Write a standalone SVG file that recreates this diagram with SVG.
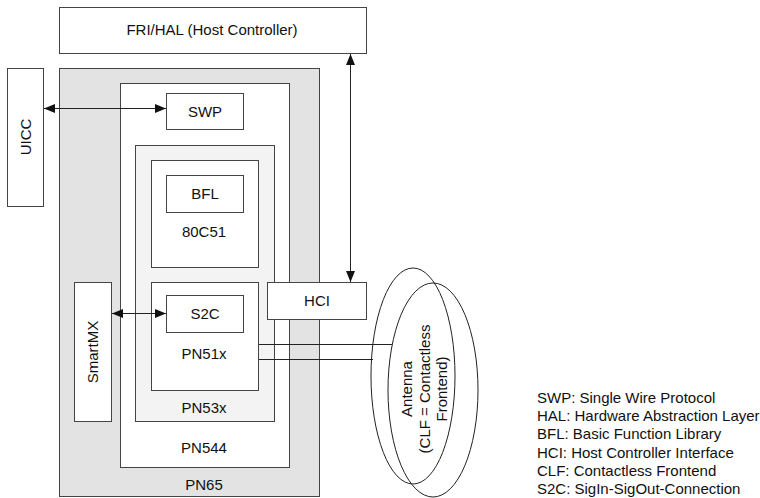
<svg xmlns="http://www.w3.org/2000/svg" width="760" height="498" viewBox="0 0 760 498">
<defs>
<marker id="ah" markerWidth="11" markerHeight="9" refX="11" refY="4.5" orient="auto-start-reverse" markerUnits="userSpaceOnUse">
<path d="M0,0 L11,4.5 L0,9 Z" fill="#111"/>
</marker>
</defs>
<style>
.box{fill:#fff;stroke:#444;stroke-width:1}
.g1{fill:#e3e3e3;stroke:#444;stroke-width:1}
.g2{fill:#f3f3f3;stroke:#444;stroke-width:1}
.t{font-family:"Liberation Sans",Arial,sans-serif;font-size:15px;fill:#111;text-anchor:middle}
.lg{font-family:"Liberation Sans",Arial,sans-serif;font-size:15px;fill:#111}
.c{fill:none;stroke:#222;stroke-width:1}
.ell{fill:none;stroke:#222;stroke-width:1}
</style>
<g id="fri"><rect class="box" x="59.5" y="7.5" width="307" height="46"/><text class="t" x="212" y="35">FRI/HAL (Host Controller)</text></g>
<g id="uicc"><rect class="box" x="7.5" y="68.5" width="36" height="138"/><text class="t" transform="translate(31,137) rotate(-90)">UICC</text></g>
<g id="pn65"><rect class="g1" x="59.5" y="68.5" width="260" height="428"/><text class="t" x="204" y="490">PN65</text></g>
<g id="pn544"><rect class="box" x="120.5" y="83.5" width="169" height="384"/><text class="t" x="204" y="453">PN544</text></g>
<g id="swp"><rect class="box" x="166.5" y="93.5" width="77" height="36"/><text class="t" x="205" y="117">SWP</text></g>
<g id="pn53x"><rect class="g2" x="135.5" y="145.5" width="139" height="276"/><text class="t" x="204" y="413">PN53x</text></g>
<g id="c80c51"><rect class="box" x="151.5" y="160.5" width="107" height="107"/><text class="t" x="204" y="237">80C51</text></g>
<g id="bfl"><rect class="box" x="166.5" y="175.5" width="77" height="37"/><text class="t" x="205" y="199">BFL</text></g>
<g id="pn51x"><rect class="box" x="151.5" y="282.5" width="107" height="108"/><text class="t" x="204" y="359">PN51x</text></g>
<g id="s2c"><rect class="box" x="166.5" y="295.5" width="77" height="37"/><text class="t" x="205" y="319">S2C</text></g>
<g id="smartmx"><rect class="box" x="74.5" y="282.5" width="37" height="139"/><text class="t" transform="translate(98,352) rotate(-90)">SmartMX</text></g>
<g id="hci"><rect class="box" x="267.5" y="282.5" width="99" height="37"/><text class="t" x="317" y="306">HCI</text></g>
<g id="antenna">
<ellipse class="ell" cx="413" cy="376" rx="42" ry="108"/>
<ellipse class="ell" cx="433" cy="390" rx="45" ry="107"/>
<text class="t" transform="translate(412,389) rotate(-90)">Antenna</text>
<text class="t" transform="translate(429.5,389) rotate(-90)">(CLF = Contactless</text>
<text class="t" transform="translate(447,389) rotate(-90)">Frontend)</text>
</g>
<g id="connectors">
<line class="c" x1="44" y1="108.5" x2="166" y2="108.5" marker-start="url(#ah)" marker-end="url(#ah)"/>
<line class="c" x1="112" y1="313.5" x2="166" y2="313.5" marker-start="url(#ah)" marker-end="url(#ah)"/>
<line class="c" x1="350.5" y1="54" x2="350.5" y2="282" marker-start="url(#ah)" marker-end="url(#ah)"/>
<line class="c" x1="259" y1="344.5" x2="392" y2="344.5"/>
<line class="c" x1="259" y1="359.5" x2="373" y2="359.5"/>
</g>
<g id="legend">
<text class="lg" x="537" y="403">SWP: Single Wire Protocol</text>
<text class="lg" x="537" y="421">HAL: Hardware Abstraction Layer</text>
<text class="lg" x="537" y="439">BFL: Basic Function Library</text>
<text class="lg" x="537" y="458">HCI: Host Controller Interface</text>
<text class="lg" x="537" y="476">CLF: Contactless Frontend</text>
<text class="lg" x="537" y="494">S2C: SigIn-SigOut-Connection</text>
</g>
</svg>
